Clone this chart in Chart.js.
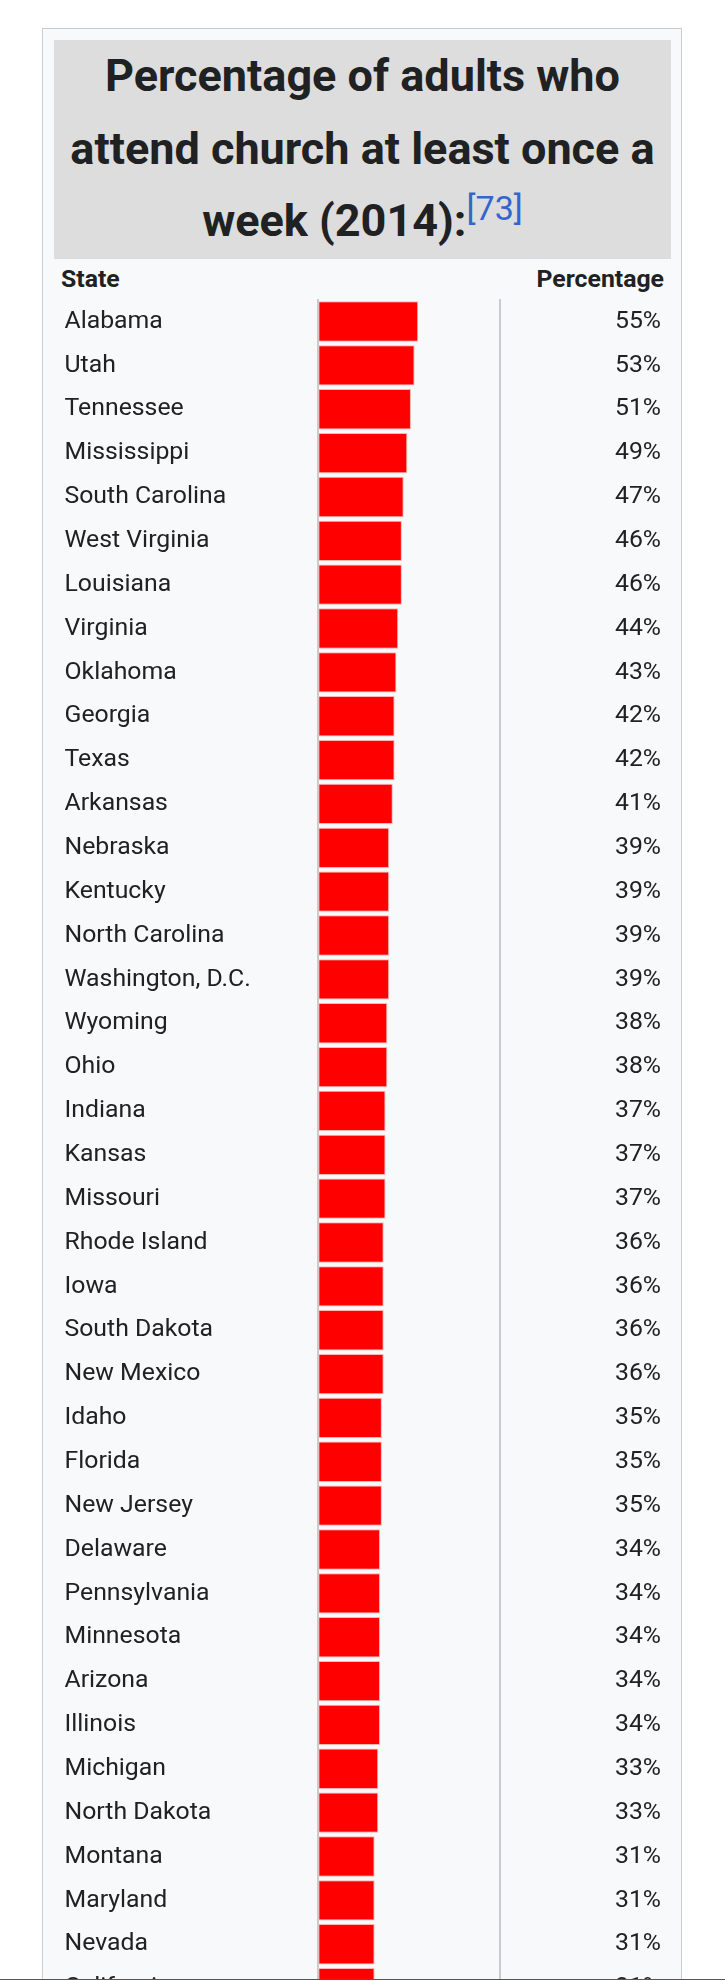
<!DOCTYPE html>
<html>
<head>
<meta charset="utf-8">
<script src="https://cdn.jsdelivr.net/npm/chart.js@4.4.1/dist/chart.umd.min.js"></script>
<style>
html,body{margin:0;padding:0;background:#fff;}
#page{position:relative;width:725px;height:1980px;overflow:hidden;background:#fff;font-family:Roboto,'Noto Sans',sans-serif;color:#202122;}
#box{position:absolute;left:42px;top:28px;width:640px;height:2100px;box-sizing:border-box;border:1px solid #c8ccd1;background:#f8f9fa;}
#title{position:absolute;left:54px;top:40px;width:617px;height:219px;background:#dddddd;text-align:center;font-weight:700;font-size:45px;line-height:72.5px;color:#202122;white-space:nowrap;}
#title sup{font-size:34px;font-weight:400;color:#3366cc;vertical-align:16px;line-height:0;}
.hdr{position:absolute;top:264px;font-weight:700;font-size:24.8px;line-height:30px;color:#202122;white-space:nowrap;}
#wrap{position:absolute;left:44px;top:296px;width:637px;height:1714px;}
#bottomline{position:absolute;left:0;top:1979px;width:725px;height:1px;background:#555;}
</style>
</head>
<body>
<div id="page">
  <div id="box"></div>
  <div id="title">Percentage of adults who<br>attend church at least once a<br>week (2014):<sup>[73]</sup></div>
  <div class="hdr" style="left:61px;">State</div>
  <div class="hdr" style="right:61px;">Percentage</div>
  <div id="wrap"><canvas id="c" width="637" height="1714"></canvas></div>
  <div id="bottomline"></div>
</div>
<script>
const states = ['Alabama','Utah','Tennessee','Mississippi','South Carolina','West Virginia','Louisiana','Virginia','Oklahoma','Georgia','Texas','Arkansas','Nebraska','Kentucky','North Carolina','Washington, D.C.','Wyoming','Ohio','Indiana','Kansas','Missouri','Rhode Island','Iowa','South Dakota','New Mexico','Idaho','Florida','New Jersey','Delaware','Pennsylvania','Minnesota','Arizona','Illinois','Michigan','North Dakota','Montana','Maryland','Nevada','California'];
const values = [55,53,51,49,47,46,46,44,43,42,42,41,39,39,39,39,38,38,37,37,37,36,36,36,36,35,35,35,34,34,34,34,34,33,33,31,31,31,31];
const valueLabels = values.map(v => v + '%');

const tickFont = {family: 'Roboto', size: 24.8, weight: '400'};
const lineColor = '#c8ccd1';

function fixAxis(width) {
  return function (s) {
    s.width = width;
    s.paddingTop = 0;
    s.paddingBottom = 0;
  };
}

new Chart(document.getElementById('c'), {
  type: 'bar',
  data: {
    labels: states,
    datasets: [{
      data: values,
      backgroundColor: '#ff0000',
      borderColor: '#ffb3b3',
      borderWidth: 1,
      borderSkipped: false,
      barPercentage: 0.92,
      categoryPercentage: 1,
      xAxisID: 'x',
      yAxisID: 'y'
    }]
  },
  options: {
    indexAxis: 'y',
    responsive: false,
    animation: false,
    events: [],
    layout: {padding: {left: 20.5, right: 20, top: 3.6, bottom: 0}},
    plugins: {legend: {display: false}, tooltip: {enabled: false}, title: {display: false}},
    scales: {
      x: {type: 'linear', min: 0, max: 100, display: false},
      y: {
        type: 'category', position: 'left', offset: true, z: 1,
        grid: {display: false},
        border: {display: true, color: lineColor, width: 2},
        ticks: {autoSkip: false, crossAlign: 'far', padding: 0, color: '#202122', font: tickFont},
        afterFit: fixAxis(253.8)
      },
      y2: {
        type: 'category', position: 'right', offset: true, labels: valueLabels, z: 1,
        grid: {display: false},
        border: {display: true, color: lineColor, width: 2},
        ticks: {autoSkip: false, crossAlign: 'far', padding: 0, color: '#202122', font: tickFont},
        afterFit: fixAxis(161)
      }
    }
  }
});
</script>
</body>
</html>
